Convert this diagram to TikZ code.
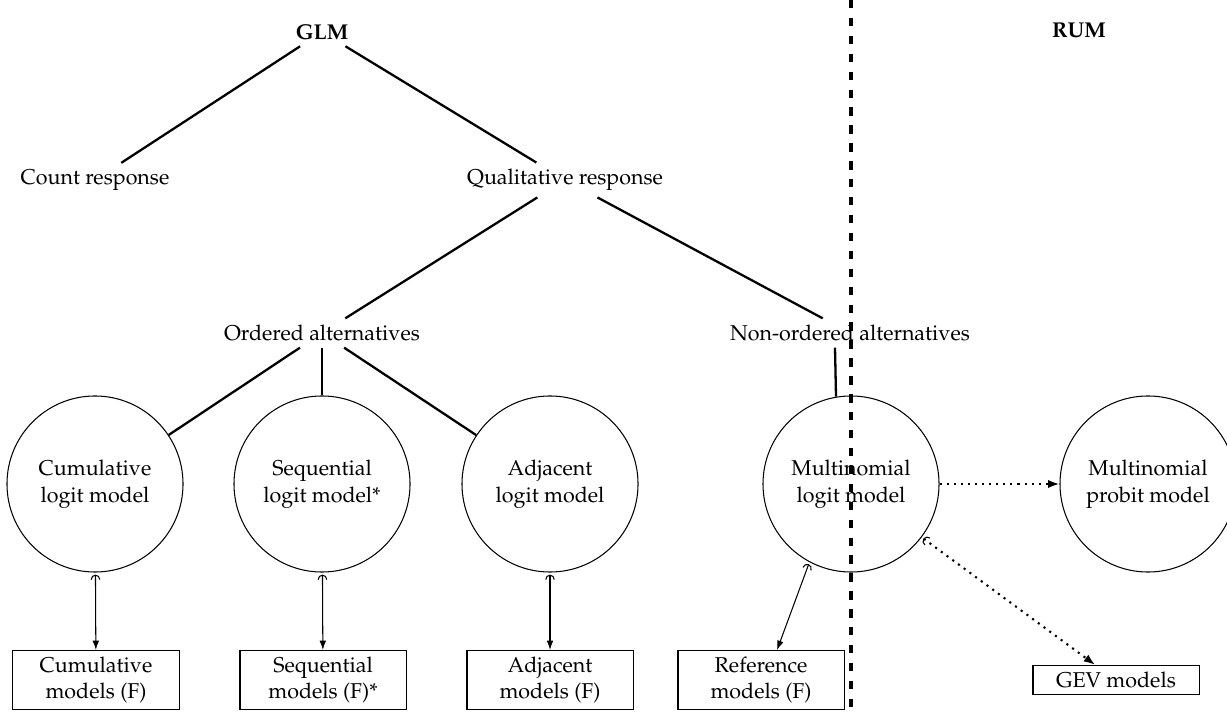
\documentclass[tikz,border=0pt]{standalone}
\usepackage[T1]{fontenc}
\usepackage{mathpazo}
\usetikzlibrary{arrows.meta}
\begin{document}
\begin{tikzpicture}[x=0.48pt,y=-0.48pt,
  every node/.style={font=\fontsize{10.3}{13}\selectfont},
  lab/.style={inner sep=3pt},
  model/.style={circle, draw, line width=0.5pt, minimum size=84.5pt, inner sep=0pt, align=center},
  fbox/.style={draw, line width=0.5pt, minimum width=79.7pt, minimum height=28.3pt, align=center, inner sep=0pt, font=\fontsize{10.3}{12.5}\selectfont},
  tree/.style={line width=1.1pt},
  hooktail/.style={{Arc Barb[width=4.6pt,length=2.4pt,line width=0.5pt]}-{Latex[length=4.5pt,width=3.2pt]}},
  hookarrow/.style={line width=0.5pt, hooktail, shorten <=1pt},
  dotarrow/.style={line width=1pt, dash pattern=on 1pt off 2.4pt},
  divider/.style={line width=1.6pt, dash pattern=on 4pt off 4.6pt}]
\useasboundingbox (0,0) rectangle (1227,715);

% divider
\coordinate (dtop) at (851,0);
\coordinate (dbot) at (851,715);
\draw[divider] (dtop) -- (dbot);

% headings
\node[lab, font=\fontsize{10.3}{13}\selectfont\bfseries] (glm) at (322,32) {GLM};
\node[lab, font=\fontsize{10.3}{13}\selectfont\bfseries] (rum) at (1079,30) {RUM};

% tree text
\node[lab] (count) at (95,180) {Count response};
\node[lab] (qual) at (565,180) {Qualitative response};
\node[lab] (ord) at (322,333) {Ordered alternatives};
\node[lab] (nonord) at (850,333) {Non-ordered alternatives};

% models
\node[model] (cum) at (95,484) {Cumulative\\logit model};
\node[model] (seq) at (322,484) {Sequential\\logit model*};
\node[model] (adj) at (550,484) {Adjacent\\logit model};
\node[model] (mnl) at (851,484) {Multinomial\\logit model};
\node[model] (mnp) at (1148,484) {Multinomial\\probit model};

% boxes
\node[fbox] (cumbox) at (96,680) {Cumulative\\models (F)};
\node[fbox] (seqbox) at (323,680) {Sequential\\models (F)*};
\node[fbox] (adjbox) at (550,680) {Adjacent\\models (F)};
\node[fbox] (refbox) at (761,680) {Reference\\models (F)};
\node[fbox, minimum height=14pt] (gevbox) at (1116,680) {GEV models};

% tree lines
\draw[tree] (glm) -- (count);
\draw[tree] (glm) -- (qual);
\draw[tree] (qual) -- (ord);
\draw[tree] (qual) -- (nonord);
\draw[tree] (ord) -- (cum);
\draw[tree] (ord) -- (seq);
\draw[tree] (ord) -- (adj);
\draw[tree] ([xshift=-7.2pt]nonord.south) -- ([xshift=-7.2pt,yshift=-0.6pt]mnl.north);

% arrows
\draw[hookarrow] (cum) -- (cumbox);
\draw[hookarrow] (seq) -- (seqbox);
\draw[hookarrow] (adj) -- (adjbox);
\draw[hookarrow] (mnl.242) -- ([xshift=7.7pt]refbox.north);
\draw[dotarrow, -{Latex[length=5.5pt,width=4pt]}] (mnl) -- (mnp);
\draw[dotarrow, {Arc Barb[width=4.6pt,length=2.4pt,line width=0.5pt]}-{Latex[length=5.5pt,width=4pt]}, shorten <=1pt] (mnl.-37) -- ([xshift=-10pt]gevbox.north);
\end{tikzpicture}
\end{document}
